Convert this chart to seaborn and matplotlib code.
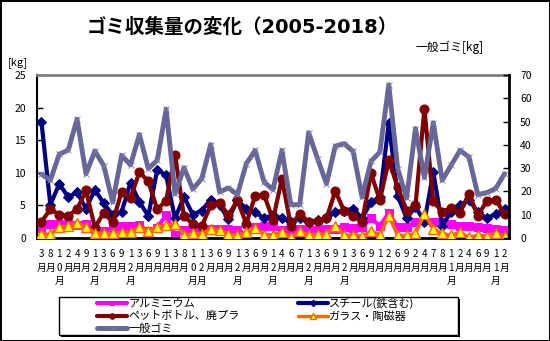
import matplotlib
matplotlib.use("Agg")
import matplotlib.pyplot as plt
from matplotlib.patches import Rectangle
import numpy as np
import pandas as pd
import seaborn as sns

# ---------------- data ----------------
month_labels = ["3月", "8月", "10月", "2月", "4月", "9月", "12月", "3月", "6月", "9月",
                "12月", "3月", "6月", "9月", "1月", "3月", "8月", "10月", "12月", "3月",
                "6月", "9月", "12月", "3月", "6月", "9月", "12月", "4月", "6月", "7月",
                "12月", "3月", "6月", "9月", "12月", "3月", "6月", "9月", "1月", "2月",
                "6月", "9月", "2月", "4月", "7月", "8月", "11月", "2月", "4月", "6月",
                "9月", "11月", "2月"]

aluminium = [1.6, 2.2, 2.2, 2.2, 2.0, 2.2, 1.4, 1.0, 1.6, 1.8,
             1.8, 2.0, 1.0, 1.6, 3.5, 0.4, 1.2, 1.0, 1.0, 1.4,
             1.4, 1.4, 1.3, 0.4, 1.7, 1.8, 1.8, 1.2, 0.9, 1.4,
             1.2, 1.2, 1.4, 1.4, 1.7, 1.5, 1.7, 3.0, 1.9, 3.8,
             1.7, 1.7, 2.5, 2.7, 2.5, 2.5, 2.2, 1.9, 1.8, 1.7,
             1.5, 1.4, 1.2]
steel = [17.8, 5.1, 8.3, 6.3, 7.0, 4.5, 7.4, 5.3, 3.5, 4.0,
         8.5, 5.5, 3.4, 10.5, 9.6, 3.0, 6.3, 3.6, 4.2, 5.9,
         5.0, 2.9, 5.8, 4.5, 4.0, 3.0, 3.5, 3.0, 2.5, 3.0,
         2.4, 2.7, 3.0, 4.0, 4.2, 4.5, 3.0, 5.5, 6.3, 17.6,
         6.5, 3.0, 4.8, 2.5, 10.1, 1.9, 4.0, 5.0, 5.8, 4.0,
         3.0, 3.7, 4.5]
pet = [2.5, 4.4, 3.6, 3.4, 4.4, 7.3, 1.6, 3.9, 2.4, 7.1,
       6.2, 10.1, 8.7, 4.4, 5.7, 12.8, 3.3, 2.2, 1.8, 5.0,
       5.4, 3.5, 5.8, 2.2, 6.5, 6.6, 2.8, 9.1, 1.9, 3.7,
       2.5, 2.6, 3.0, 7.2, 4.1, 3.4, 2.5, 9.9, 5.8, 11.9,
       7.8, 4.2, 5.0, 19.8, 5.6, 4.0, 4.6, 3.9, 6.8, 3.4,
       5.7, 5.9, 3.7]
glass = [0.6, 0.6, 1.7, 1.8, 2.3, 1.7, 0.8, 0.7, 0.7, 0.9,
         0.9, 1.7, 1.0, 1.7, 2.0, 2.2, 0.5, 0.7, 0.6, 1.4,
         1.2, 0.6, 0.4, 0.9, 1.5, 0.5, 0.5, 0.9, 0.15, 1.0,
         0.5, 0.6, 0.6, 1.9, 0.4, 0.5, 0.3, 1.0, 0.5, 3.4,
         0.4, 0.4, 0.7, 3.7, 1.4, 0.7, 0.4, 0.9, 0.1, 0.4,
         0.3, 0.7, 0.3]
general = [27.4, 24.8, 36.0, 37.7, 51.0, 27.5, 37.4, 31.0, 15.5, 35.5,
           31.4, 44.4, 29.8, 33.4, 55.3, 19.0, 30.2, 21.0, 25.5, 40.1,
           19.8, 21.5, 18.6, 31.9, 37.6, 24.0, 20.8, 37.6, 14.3, 14.3,
           45.2, 34.1, 23.3, 39.5, 40.5, 37.2, 17.6, 32.9, 36.9, 65.8,
           29.8, 17.2, 47.0, 26.0, 49.5, 24.8, 31.2, 37.6, 34.8, 18.6,
           19.5, 21.2, 27.6]

series_names = ["アルミニウム", "スチール(鉄含む)", "ペットボトル、廃プラ", "ガラス・陶磁器", "一般ゴミ"]
left_ticks = [0, 5, 10, 15, 20, 25]
right_ticks = [0, 10, 20, 30, 40, 50, 60, 70]

# ---------------- style ----------------
sns.set_theme(style="white")
plt.rcParams["font.family"] = ["Noto Sans CJK JP", "DejaVu Sans"]
plt.rcParams["text.color"] = "black"
plt.rcParams["xtick.color"] = "black"
plt.rcParams["ytick.color"] = "black"

df = pd.DataFrame({
    "idx": np.arange(len(month_labels)),
    "aluminium": aluminium,
    "steel": steel,
    "pet": pet,
    "glass": glass,
    "general": general,
})

W, H = 550, 341
fig = plt.figure(figsize=(W / 100, H / 100), dpi=100)
fig.patch.set_facecolor("white")
fig.patch.set_edgecolor("black")
fig.patch.set_linewidth(2)

ax = fig.add_axes([37 / W, 1 - 238 / H, (509 - 37) / W, (238 - 75) / H])
ax.set_facecolor("white")

sns.lineplot(data=df, x="idx", y="aluminium", ax=ax, color="#FF00FF", linewidth=3,
             marker="s", markersize=5.5, markeredgecolor="#FF00FF", legend=False, zorder=2)
sns.lineplot(data=df, x="idx", y="steel", ax=ax, color="#000080", linewidth=3,
             marker="D", markersize=5.5, markeredgecolor="#000080", legend=False, zorder=3)
sns.lineplot(data=df, x="idx", y="pet", ax=ax, color="#800000", linewidth=3,
             marker="o", markersize=6.5, markeredgecolor="#800000", legend=False, zorder=4)
sns.lineplot(data=df, x="idx", y="glass", ax=ax, color="#FF6600", linewidth=2.5,
             marker="^", markersize=7, markerfacecolor="#FFFF00", markeredgecolor="#FF6600",
             markeredgewidth=1, legend=False, zorder=5)
h_al, h_st, h_pet, h_gl = ax.get_lines()[:4]

ax2 = ax.twinx()
sns.lineplot(data=df, x="idx", y="general", ax=ax2, color="#666699", linewidth=3.5,
             marker="x", markersize=5, markeredgecolor="#7A7AA6", markeredgewidth=0.6,
             legend=False, zorder=6)
h_gen = ax2.get_lines()[0]

n = len(month_labels)
ax.set_xlim(-0.5, n - 0.5)
ax.set_ylim(0, 25)
ax2.set_ylim(0, 70)
ax.set_xlabel("")
ax.set_ylabel("")
ax2.set_ylabel("")

ax.set_xticks(np.arange(n))
ax.set_xticklabels(["\n".join(list(lbl)) for lbl in month_labels], fontsize=7,
                   va="top", ha="center", linespacing=1.45, color="black")
ax.tick_params(axis="x", length=0, pad=8)
ax.set_yticks(left_ticks)
ax.tick_params(axis="y", direction="in", length=4, width=1, color="black",
               labelsize=7.5, pad=8, left=True, labelcolor="black")
ax2.set_yticks(right_ticks)
ax2.tick_params(axis="y", direction="in", length=4, width=1, color="black",
                labelsize=7.5, pad=8, right=True, labelcolor="black")

for a in (ax, ax2):
    for s in a.spines.values():
        s.set_visible(False)
ax.spines["left"].set_visible(True)
ax.spines["left"].set_color("black")
ax.spines["left"].set_linewidth(1.5)
ax.spines["bottom"].set_visible(True)
ax.spines["bottom"].set_color("black")
ax.spines["bottom"].set_linewidth(2)
ax.spines["top"].set_visible(True)
ax.spines["top"].set_color("#808080")
ax.spines["top"].set_linewidth(2)
ax2.spines["right"].set_visible(True)
ax2.spines["right"].set_color("black")
ax2.spines["right"].set_linewidth(2)

# texts
fig.text(242 / W, 1 - 27 / H, "ゴミ収集量の変化（2005-2018）", ha="center", va="center",
         fontsize=14, fontweight="bold", family=["DejaVu Sans", "Noto Sans CJK JP"])
fig.text(8 / W, 1 - 63 / H, "[kg]", ha="left", va="center", fontsize=8)
fig.text(415 / W, 1 - 47 / H, "一般ゴミ[kg]", ha="left", va="center", fontsize=8.5)

# legend box with shadow
fig.add_artist(Rectangle((61 / W, 1 - 337 / H), 399 / W, 38 / H, transform=fig.transFigure,
                         facecolor="black", edgecolor="black", lw=0, zorder=1))
fig.add_artist(Rectangle((59 / W, 1 - 335 / H), 399 / W, 38 / H, transform=fig.transFigure,
                         facecolor="white", edgecolor="black", lw=1, zorder=2))
handles = [h_al, h_pet, h_gen, h_st, h_gl]
labels = [series_names[0], series_names[2], series_names[4], series_names[1], series_names[3]]
leg = fig.legend(handles, labels, loc="upper left", bbox_to_anchor=(97 / W, 1 - 297.5 / H),
                 ncol=2, frameon=False, fontsize=8, handlelength=2.7, handletextpad=0.15,
                 columnspacing=5.2, labelspacing=0.22, borderpad=0, borderaxespad=0,
                 markerscale=0.6)
leg.set_zorder(5)

fig.savefig("out.png", dpi=100, facecolor="white", edgecolor="black")
